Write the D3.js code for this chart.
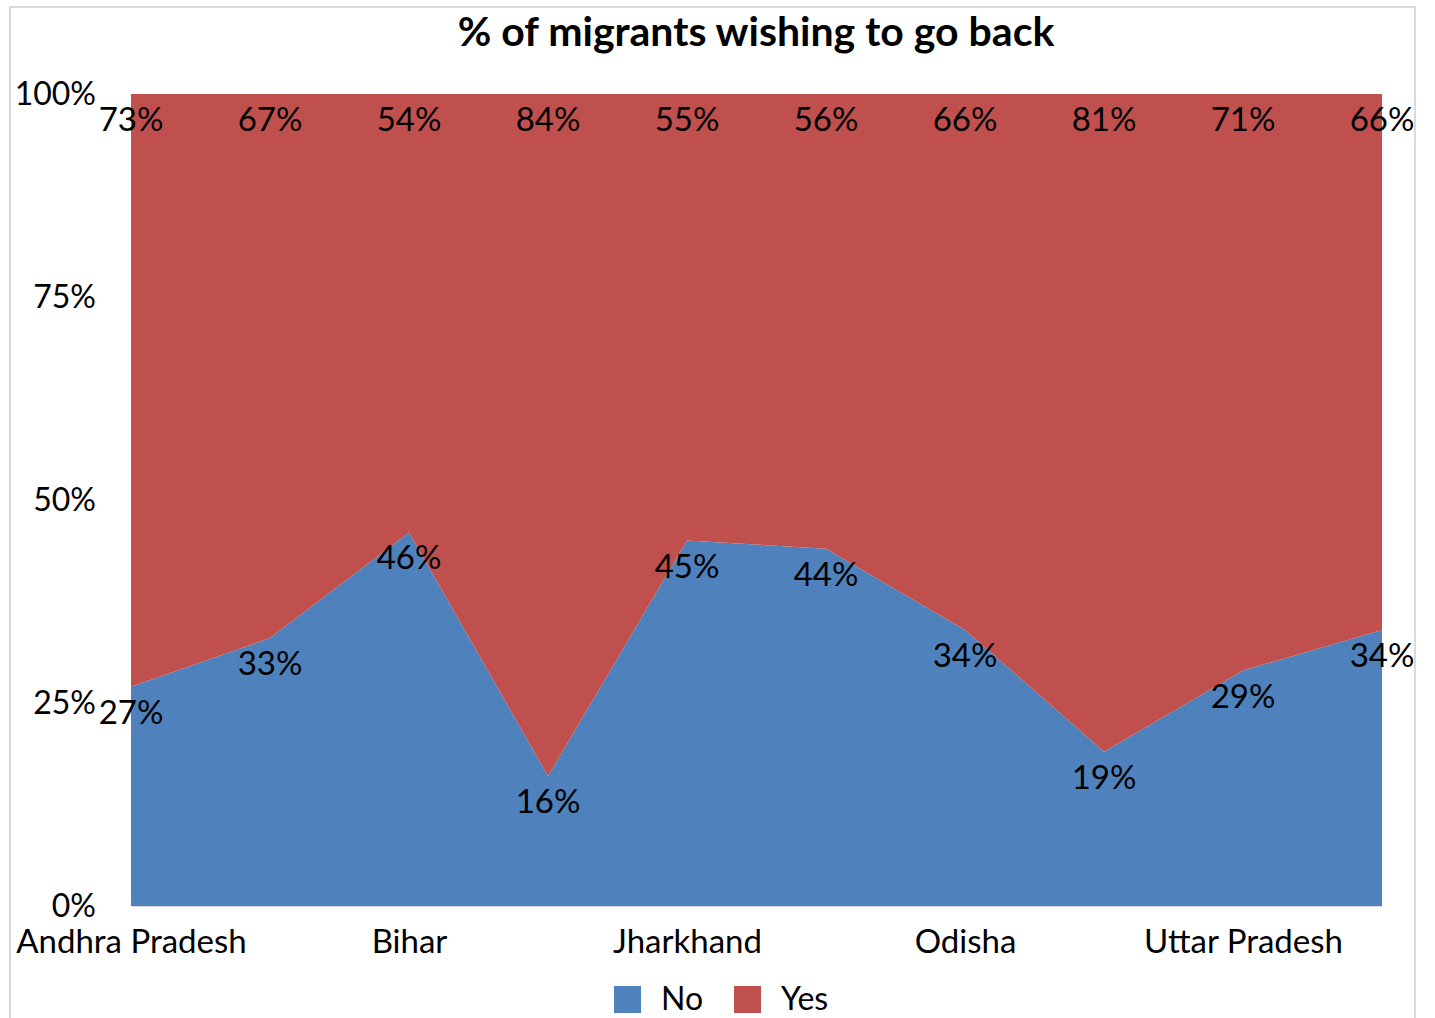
<!DOCTYPE html>
<html>
<head>
<meta charset="utf-8">
<script src="https://cdn.jsdelivr.net/npm/d3@7"></script>
<style>
  body { margin: 0; background: #fff; }
  text { font-family: Lato, "Open Sans", sans-serif; fill: #000; }
</style>
</head>
<body>
<script>
// data (every other state label is hidden on the axis)
var states = ["Andhra Pradesh", "Assam", "Bihar", "Chhattisgarh", "Jharkhand",
              "Madhya Pradesh", "Odisha", "Rajasthan", "Uttar Pradesh", "West Bengal"];
var noVals  = [27, 33, 46, 16, 45, 44, 34, 19, 29, 34];
var yesVals = [73, 67, 54, 84, 55, 56, 66, 81, 71, 66];
var yTicks  = [0, 25, 50, 75, 100];
var seriesNames = ["No", "Yes"];
var colors = ["#4F81BD", "#C0504D"];

var W = 1435, H = 1018;
var fs = 33;
var margin = {top: 94, right: 53, bottom: 112, left: 131},
    width = W - margin.left - margin.right,
    height = H - margin.top - margin.bottom;

var svg = d3.select("body").append("svg")
    .attr("width", W)
    .attr("height", H);

// chart border
svg.append("rect")
    .attr("x", 10).attr("y", 7)
    .attr("width", 1405).attr("height", 1030)
    .attr("fill", "none")
    .attr("stroke", "#d9d9d9")
    .attr("stroke-width", 2);

var g = svg.append("g")
    .attr("transform", "translate(" + margin.left + "," + margin.top + ")");

var x = d3.scalePoint().domain(states).range([0, width]);
var y = d3.scaleLinear().domain([0, 100]).range([height, 0]);

var rows = states.map(function(s, i) { return {state: s, No: noVals[i], Yes: yesVals[i]}; });
var stacked = d3.stack().keys(seriesNames)(rows);

var area = d3.area()
    .x(function(d) { return x(d.data.state); })
    .y0(function(d) { return y(d[0]); })
    .y1(function(d) { return y(d[1]); });

g.selectAll(".layer")
    .data(stacked)
    .enter()
    .append("path")
    .attr("class", "layer")
    .attr("fill", function(d, i) { return colors[i]; })
    .attr("d", area);

// y axis labels
var yAxis = g.append("g")
    .call(d3.axisLeft(y).tickValues(yTicks).tickSize(0).tickPadding(35)
        .tickFormat(function(d) { return d + "%"; }));
yAxis.select(".domain").remove();
yAxis.selectAll("text").attr("font-size", 32).style("font-family", "Lato, sans-serif");

// x axis labels, only every other one shown
var xAxis = g.append("g")
    .attr("transform", "translate(0," + height + ")")
    .call(d3.axisBottom(x).tickSize(0).tickPadding(24)
        .tickFormat(function(d, i) { return i % 2 === 0 ? d : ""; }));
xAxis.select(".domain").attr("stroke", "#d9d9d9");
xAxis.selectAll("text").attr("font-size", fs).style("font-family", "Lato, sans-serif");

// data labels
stacked.forEach(function(layer, li) {
    g.selectAll(".lab" + li)
        .data(layer)
        .enter()
        .append("text")
        .attr("x", function(d) { return x(d.data.state); })
        .attr("y", function(d) { return y(d[1]) + 24; })
        .attr("text-anchor", "middle")
        .attr("dominant-baseline", "central")
        .attr("font-size", fs)
        .text(function(d) { return (d[1] - d[0]) + "%"; });
});

// title
svg.append("text")
    .attr("x", 756).attr("y", 30)
    .attr("text-anchor", "middle")
    .attr("dominant-baseline", "central")
    .attr("font-size", 41)
    .attr("font-weight", "bold")
    .text("% of migrants wishing to go back");

// legend
var legend = svg.append("g").attr("transform", "translate(614,997)");
var item = legend.selectAll(".item")
    .data(seriesNames)
    .enter()
    .append("g")
    .attr("transform", function(d, i) { return "translate(" + (i * 120) + ",0)"; });
item.append("rect")
    .attr("x", 0).attr("y", -11)
    .attr("width", 27).attr("height", 27)
    .attr("fill", function(d, i) { return colors[i]; });
item.append("text")
    .attr("x", 47).attr("y", 0)
    .attr("dominant-baseline", "central")
    .attr("font-size", 32)
    .text(function(d) { return d; });
</script>
</body>
</html>
